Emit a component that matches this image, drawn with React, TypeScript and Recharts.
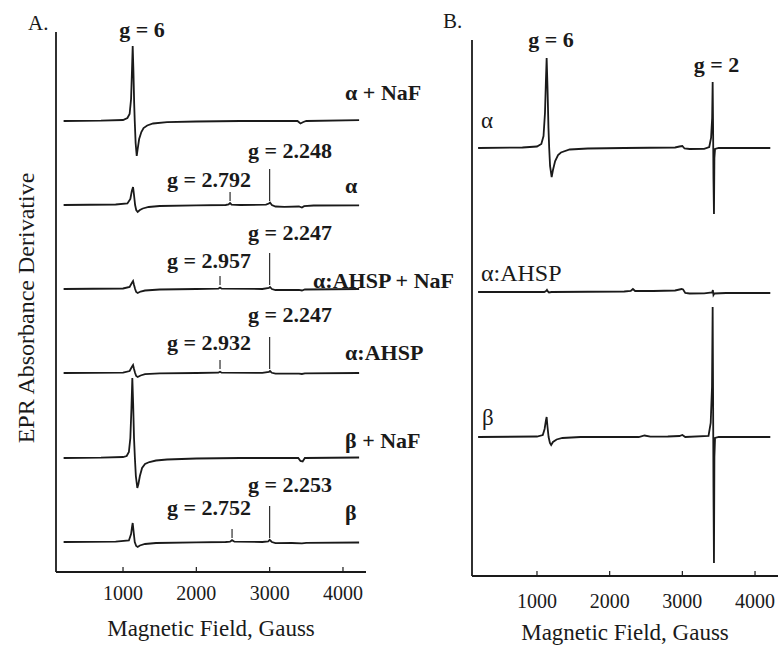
import React from 'react';
import { ComposedChart, Line, XAxis, YAxis, ReferenceLine, ReferenceDot } from 'recharts';

type Pair = [number, number];

// ---------- Panel A spectra: [field (G), intensity (a.u.)] ----------
const aAlphaNaF: Pair[] = [[190,0],[700,0.3],[1000,1],[1060,3],[1090,7],[1110,22],[1122,50],[1132,75],[1142,50],[1152,18],[1160,0],[1172,-22],[1187,-35],[1200,-28],[1220,-18],[1250,-11],[1280,-7],[1330,-4.5],[1410,-2.5],[1600,-1.2],[2000,-0.5],[2600,0],[3380,0],[3420,-2.5],[3460,-1],[3500,0],[4220,0.8]];
const aAlpha: Pair[] = [[190,0],[900,0.5],[1060,1.5],[1100,6],[1120,14],[1137,18],[1150,10],[1165,0],[1180,-5],[1200,-7],[1230,-5],[1270,-3.5],[1350,-2],[1500,-1],[2000,-0.3],[2400,0],[2440,0.5],[2460,2],[2480,0.3],[2600,0],[2950,0.3],[2990,1.5],[3005,2.5],[3030,0],[3080,-1.5],[3200,-1.8],[3400,-1.5],[3440,-2.5],[3470,-1.2],[3600,-0.5],[4220,-0.3]];
const aAhspNaF: Pair[] = [[190,0],[1000,0.5],[1090,2],[1120,6],[1137,8],[1150,4],[1165,0],[1180,-3],[1200,-4],[1240,-2.5],[1300,-1.5],[1500,-0.5],[2000,0],[2300,0.3],[2323,1.5],[2345,0.3],[2900,0],[2990,1],[3005,2],[3030,0],[3080,-1],[3400,-0.8],[3440,-1.5],[3480,-0.5],[4220,0]];
const aAhsp: Pair[] = [[190,0],[1000,0.4],[1090,2],[1120,6],[1137,8],[1150,4],[1165,0],[1180,-3],[1200,-4],[1240,-2.5],[1300,-1.2],[1500,-0.4],[2000,0],[2300,0.3],[2323,1.2],[2345,0.3],[2900,0.2],[2990,1],[3005,2],[3030,0.2],[3080,-0.6],[3400,-0.6],[3440,-1],[3480,-0.4],[4220,0]];
const aBetaNaF: Pair[] = [[190,0],[700,0.3],[1000,1],[1050,2],[1080,6],[1100,20],[1115,50],[1127,80],[1138,55],[1150,20],[1162,0],[1175,-18],[1195,-30],[1210,-26],[1230,-18],[1260,-10],[1300,-6],[1360,-4],[1450,-2.5],[1600,-1.5],[2000,-0.5],[2600,0],[3390,0],[3420,-3],[3450,-3.5],[3480,0],[4220,0.5]];
const aBeta: Pair[] = [[190,0],[900,0.4],[1080,1.5],[1110,8],[1125,16],[1132,19],[1145,10],[1160,0],[1180,-4],[1200,-5],[1230,-3.5],[1300,-2],[1450,-1],[2000,-0.3],[2400,0],[2460,0.3],[2487,1.8],[2520,0.3],[2900,0],[2980,0.5],[3000,2.2],[3030,0],[3080,-1.2],[3300,-1.0],[3440,-1.4],[3500,-0.8],[4220,-0.5]];

// vertical stacking offsets of the traces in panel A (a.u.)
const aOffsets = [451, 367, 283, 199, 114, 30];
const aSpectra = [aAlphaNaF, aAlpha, aAhspNaF, aAhsp, aBetaNaF, aBeta];
const aNames = ['α + NaF', 'α', 'α:AHSP + NaF', 'α:AHSP', 'β + NaF', 'β'];

// g-value markers (field, G) per trace index
const aMarkerFields: { trace: number; field: number; long: boolean }[] = [
  { trace: 1, field: 2460, long: false }, { trace: 1, field: 3000, long: true },
  { trace: 2, field: 2323, long: false }, { trace: 2, field: 3000, long: true },
  { trace: 3, field: 2323, long: false }, { trace: 3, field: 3000, long: true },
  { trace: 5, field: 2487, long: false }, { trace: 5, field: 3000, long: true },
];

// ---------- Panel B spectra ----------
const bAlpha: Pair[] = [[190,0],[800,0.5],[1000,1.5],[1060,4],[1090,12],[1110,35],[1122,65],[1133,90],[1145,60],[1158,20],[1168,0],[1180,-18],[1202,-29],[1220,-22],[1250,-13],[1290,-7],[1330,-4.5],[1450,-1.5],[1700,-0.5],[2200,0],[2900,0.5],[2960,1.5],[3000,2],[3030,-0.5],[3100,-1],[3300,-0.8],[3370,1],[3395,10],[3410,30],[3417,66],[3423,20],[3428,-30],[3435,-66],[3441,-10],[3450,-1],[3500,0],[4210,0]];
const bAhsp: Pair[] = [[190,0],[1100,0],[1125,1],[1137,2.2],[1150,0.5],[1165,-0.5],[1200,0],[2200,0.5],[2290,1],[2320,3],[2350,1],[2600,1],[2900,1.5],[2990,3],[3010,2.5],[3040,-1],[3100,-1.5],[3300,-1.3],[3410,-0.5],[3420,2],[3428,-3],[3440,-1.5],[3600,-1],[4210,-1]];
const bBeta: Pair[] = [[190,0],[1000,0.5],[1080,2],[1105,8],[1122,16],[1133,20],[1145,10],[1160,0],[1178,-6],[1195,-8],[1220,-5],[1270,-2.5],[1350,-1],[1600,0],[2400,0],[2480,1.5],[2560,0.3],[2800,0.5],[2960,1],[3000,2],[3040,0],[3360,1],[3390,14],[3408,50],[3417,130],[3423,40],[3428,-50],[3435,-126],[3441,-20],[3450,-1],[3500,0],[4210,0]];
const bOffsets = [428, 284, 139];
const bSpectra = [bAlpha, bAhsp, bBeta];
const bNames = ['α', 'α:AHSP', 'β'];

const xTicks = [1000, 2000, 3000, 4000];

// ---------- layout / style ----------
const FONT = "'Liberation Serif', 'Times New Roman', serif";
const INK = '#1a1a1a';
const aDomainX: [number, number] = [86, 4314];
const bDomainX: [number, number] = [106, 4316];

type Ann = { text: string; x: number; y: number; anchor: 'start' | 'middle' | 'end'; bold: boolean; size: number };

const aAnnotations: Ann[] = [
  { text: 'g = 6', x: 1259, y: 535, anchor: 'middle', bold: true, size: 22 },
  { text: aNames[0], x: 4029, y: 472, anchor: 'start', bold: true, size: 22 },
  { text: 'g = 2.248', x: 2705, y: 414, anchor: 'start', bold: true, size: 22 },
  { text: 'g = 2.792', x: 1600, y: 385, anchor: 'start', bold: true, size: 22 },
  { text: aNames[1], x: 4029, y: 379, anchor: 'start', bold: true, size: 22 },
  { text: 'g = 2.247', x: 2705, y: 332, anchor: 'start', bold: true, size: 22 },
  { text: 'g = 2.957', x: 1600, y: 304, anchor: 'start', bold: true, size: 22 },
  { text: aNames[2], x: 3592, y: 284, anchor: 'start', bold: true, size: 22 },
  { text: 'g = 2.247', x: 2705, y: 250, anchor: 'start', bold: true, size: 22 },
  { text: 'g = 2.932', x: 1600, y: 222, anchor: 'start', bold: true, size: 22 },
  { text: aNames[3], x: 4029, y: 212, anchor: 'start', bold: true, size: 22 },
  { text: aNames[4], x: 4029, y: 124, anchor: 'start', bold: true, size: 22 },
  { text: 'g = 2.253', x: 2705, y: 80, anchor: 'start', bold: true, size: 22 },
  { text: 'g = 2.752', x: 1600, y: 57, anchor: 'start', bold: true, size: 22 },
  { text: aNames[5], x: 4029, y: 52, anchor: 'start', bold: true, size: 22 },
];

const bAnnotations: Ann[] = [
  { text: 'g = 6', x: 1193, y: 529, anchor: 'middle', bold: true, size: 22 },
  { text: 'g = 2', x: 3470, y: 504, anchor: 'middle', bold: true, size: 22 },
  { text: bNames[0], x: 229, y: 448, anchor: 'start', bold: false, size: 23 },
  { text: bNames[1], x: 229, y: 295, anchor: 'start', bold: false, size: 24 },
  { text: bNames[2], x: 243, y: 151, anchor: 'start', bold: false, size: 23 },
];

const markerLen = { base: 4, short: 13, long: 36 };

const toRows = (pairs: Pair[], offset: number) => pairs.map(([x, v]) => ({ x, y: v + offset }));

const annLabel = (a: Ann) => (props: any) => {
  const vb = props.viewBox || { x: props.x, y: props.y };
  return (
    <text x={vb.x} y={vb.y} textAnchor={a.anchor} fontFamily={FONT} fontSize={a.size}
      fontWeight={a.bold ? 700 : 400} fill={INK}>{a.text}</text>
  );
};

const yAxisDecor = (letter: string, letterDx: number, letterDy: number, titleDx: number | null) => (props: any) => {
  const vb = props.viewBox;
  const cy = vb.y + vb.height / 2 + 6;
  return (
    <g>
      <text x={vb.x + letterDx} y={vb.y + letterDy} fontFamily={FONT} fontSize={21} fill={INK}>{letter}</text>
      {titleDx !== null && (
        <text x={vb.x + titleDx} y={cy} transform={`rotate(-90 ${vb.x + titleDx} ${cy})`} textAnchor="middle"
          fontFamily={FONT} fontSize={24} fill={INK}>EPR Absorbance Derivative</text>
      )}
    </g>
  );
};

const xTitle = (props: any) => {
  const vb = props.viewBox;
  return (
    <text x={vb.x + vb.width / 2} y={vb.y + 64} textAnchor="middle" fontFamily={FONT} fontSize={23} fill={INK}>
      Magnetic Field, Gauss
    </text>
  );
};

const tickStyle = { fontFamily: FONT, fontSize: 20, fill: INK };

function PanelA() {
  return (
    <ComposedChart width={470} height={650} margin={{ top: 32, right: 104, bottom: 38, left: 56 }}>
      <XAxis dataKey="x" type="number" domain={aDomainX} ticks={xTicks} allowDataOverflow
        height={40} tickSize={-5} tickMargin={19} tick={tickStyle}
        axisLine={{ stroke: INK, strokeWidth: 1.8 }} tickLine={{ stroke: INK, strokeWidth: 1.2 }}
        label={xTitle} />
      <YAxis type="number" domain={[0, 540]} hide allowDataOverflow />
      <ReferenceLine x={aDomainX[0]} stroke={INK} strokeWidth={1.8} label={yAxisDecor('A.', -28, -2, -22)} />
      {aSpectra.map((s, i) => (
        <Line key={aNames[i]} data={toRows(s, aOffsets[i])} dataKey="y" type="linear" stroke={INK}
          strokeWidth={1.8} dot={false} isAnimationActive={false} />
      ))}
      {aMarkerFields.map((m, i) => (
        <ReferenceLine key={'m' + i} stroke={INK} strokeWidth={1.1}
          segment={[{ x: m.field, y: aOffsets[m.trace] + markerLen.base },
                    { x: m.field, y: aOffsets[m.trace] + (m.long ? markerLen.long : markerLen.short) }]} />
      ))}
      {aAnnotations.map((a, i) => (
        <ReferenceDot key={'a' + i} x={a.x} y={a.y} r={0} fill="none" stroke="none" ifOverflow="visible" label={annLabel(a)} />
      ))}
    </ComposedChart>
  );
}

function PanelB() {
  return (
    <ComposedChart width={338} height={650} margin={{ top: 40, right: 0, bottom: 34, left: 32 }}>
      <XAxis dataKey="x" type="number" domain={bDomainX} ticks={xTicks} allowDataOverflow
        height={40} tickSize={-5} tickMargin={23} tick={tickStyle}
        axisLine={{ stroke: INK, strokeWidth: 1.8 }} tickLine={{ stroke: INK, strokeWidth: 1.2 }}
        label={xTitle} />
      <YAxis type="number" domain={[0, 536]} hide allowDataOverflow />
      <ReferenceLine x={bDomainX[0]} stroke={INK} strokeWidth={1.8} label={yAxisDecor('B.', -29, -12, null)} />
      {bSpectra.map((s, i) => (
        <Line key={bNames[i]} data={toRows(s, bOffsets[i])} dataKey="y" type="linear" stroke={INK}
          strokeWidth={1.8} dot={false} isAnimationActive={false} />
      ))}
      {bAnnotations.map((a, i) => (
        <ReferenceDot key={'b' + i} x={a.x} y={a.y} r={0} fill="none" stroke="none" ifOverflow="visible" label={annLabel(a)} />
      ))}
    </ComposedChart>
  );
}

export default function App() {
  return (
    <div style={{ position: 'absolute', left: 0, top: 0, width: 778, height: 650, background: '#fff', overflow: 'hidden' }}>
      <div style={{ position: 'absolute', left: 0, top: 0 }}><PanelA /></div>
      <div style={{ position: 'absolute', left: 440, top: 0 }}><PanelB /></div>
    </div>
  );
}
